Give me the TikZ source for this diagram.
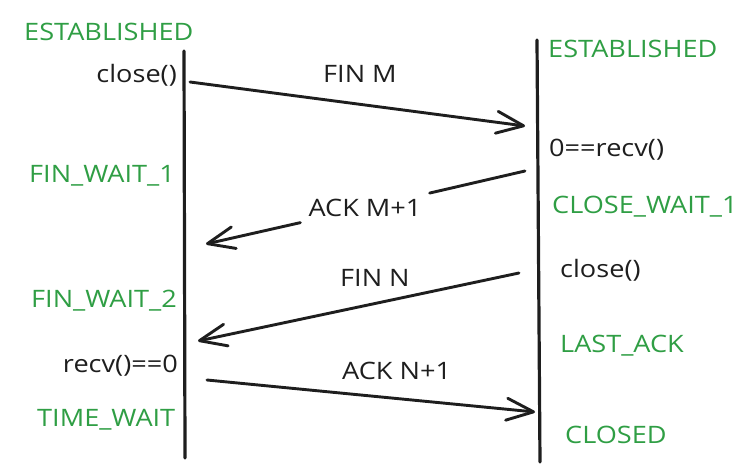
\documentclass[tikz,border=0pt]{standalone}
\usepackage{fontspec}
\setmainfont[FakeStretch=1.13]{Open Sans}
\usetikzlibrary{arrows.meta}
\definecolor{exgreen}{HTML}{2F9E44}
\definecolor{exblack}{HTML}{1E1E1E}
\begin{document}
\begin{tikzpicture}[x=1pt,y=-1pt,
  txt/.style={inner sep=0pt, anchor=base west, font=\fontsize{24}{28}\selectfont},
  statetxt/.style={txt, text=exgreen},
  calltxt/.style={txt, text=exblack},
  lifeline/.style={draw=exblack, line width=3.2pt, line cap=round},
  msg/.style={draw=exblack, line width=2.9pt, line cap=round},
  msgtip/.style={msg, -{Straight Barb[length=27pt,width=22pt,round]}},
  onlabel/.style={text=exblack, font=\fontsize{24}{28}\selectfont, inner xsep=8pt, inner ysep=10pt}
]
\useasboundingbox (0,0) rectangle (755,473);

% lifelines
\coordinate (lt) at (184,51);
\coordinate (lb) at (185,458);
\coordinate (rt) at (537,40);
\coordinate (rb) at (540,462);
\draw[lifeline] (lt) -- (lb);
\draw[lifeline] (rt) -- (rb);

% left states / calls
\node[statetxt] (estl) at (24,41) {ESTABLISHED};
\node[calltxt, anchor=base east] (closel) at (177,83) {close()};
\node[statetxt] (fw1) at (29,183) {FIN\_WAIT\_1};
\node[statetxt] (fw2) at (31,307) {FIN\_WAIT\_2};
\node[calltxt, anchor=base east] (recvl) at (178,372) {recv()==0};
\node[statetxt] (tw) at (37,426) {TIME\_WAIT};

% right states / calls
\node[statetxt] (estr) at (548,58) {ESTABLISHED};
\node[calltxt] (recvr) at (549,157) {0==recv()};
\node[statetxt] (cw1) at (552,214) {CLOSE\_WAIT\_1};
\node[calltxt] (closer) at (560,277) {close()};
\node[statetxt] (la) at (560,352) {LAST\_ACK};
\node[statetxt] (cl) at (565,443) {CLOSED};

% message labels
\node[calltxt] (finm) at (323,83) {FIN M};
\node[calltxt] (finn) at (340,286) {FIN N};
\node[calltxt] (ackn) at (342,379) {ACK N+1};
\node[onlabel] (ackm) at (365,208) {ACK M+1};

% messages
\coordinate (m1s) at (190,82);
\coordinate (m1e) at (525,126);
\coordinate (m2s) at (525,171);
\coordinate (m2e) at (206,244);
\coordinate (m3s) at (519,273);
\coordinate (m3e) at (198,341);
\coordinate (m4s) at (207,380);
\coordinate (m4e) at (535,412);

\draw[msgtip] (m1s) -- (m1e);
\draw[msg] (m2s) -- (ackm);
\draw[msgtip] (ackm) -- (m2e);
\draw[msgtip] (m3s) -- (m3e);
\draw[msgtip] (m4s) -- (m4e);
\end{tikzpicture}
\end{document}
